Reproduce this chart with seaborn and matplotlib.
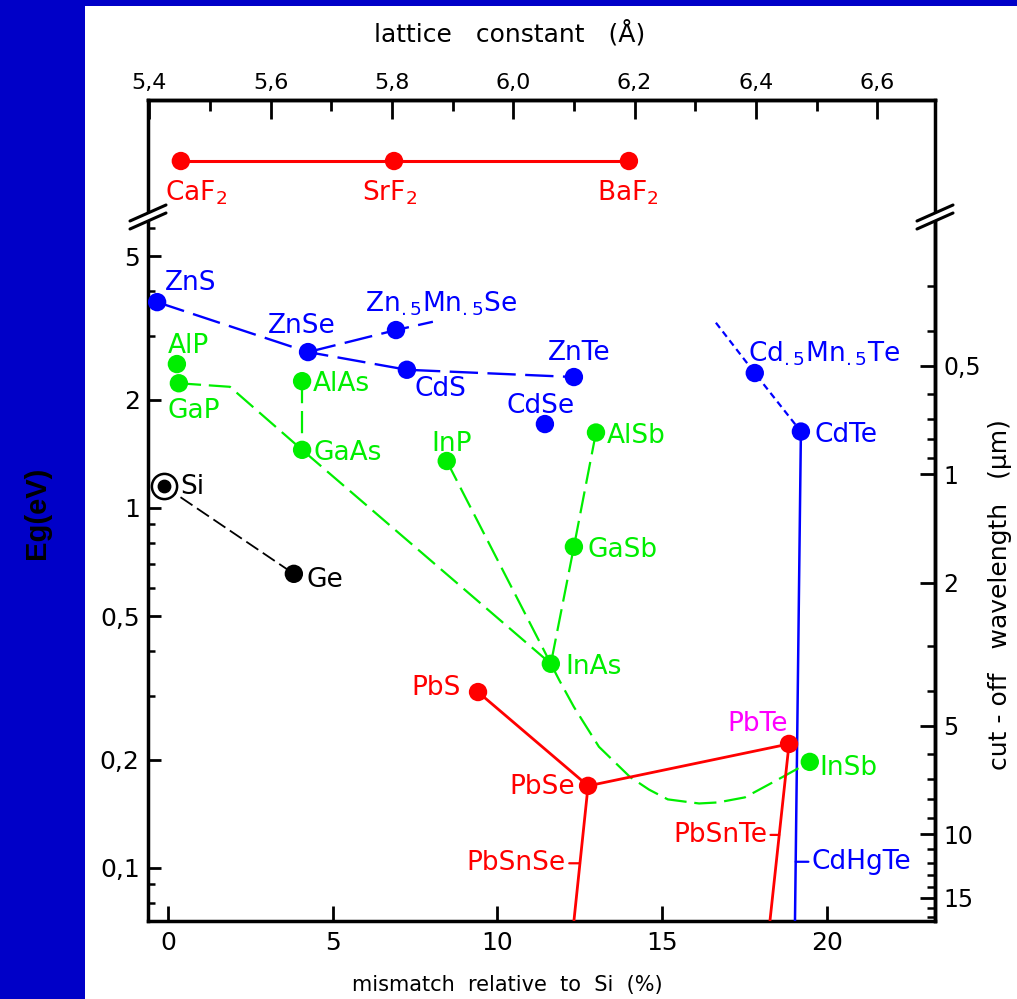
import numpy as np
import matplotlib
matplotlib.use("Agg")
import matplotlib.pyplot as plt
import seaborn as sns
import pandas as pd
from matplotlib.ticker import FixedLocator, NullFormatter
from matplotlib.lines import Line2D
from matplotlib.patches import Rectangle

# ---------------- data ----------------
# x: lattice mismatch relative to Si (%), y: band gap Eg (eV)
blue_names = ["ZnS", "ZnSe", "Zn$_{.5}$Mn$_{.5}$Se", "CdS", "ZnTe", "CdSe",
              "Cd$_{.5}$Mn$_{.5}$Te", "CdTe"]
blue_mismatch = [-0.33, 4.25, 6.92, 7.25, 12.32, 11.44, 17.81, 19.21]
blue_eg = [3.73, 2.71, 3.12, 2.42, 2.31, 1.71, 2.37, 1.63]

green_names = ["AlP", "GaP", "AlAs", "GaAs", "InP", "AlSb", "GaSb", "InAs", "InSb"]
green_mismatch = [0.27, 0.33, 4.07, 4.07, 8.46, 12.99, 12.32, 11.62, 19.48]
green_eg = [2.51, 2.22, 2.25, 1.45, 1.35, 1.62, 0.78, 0.369, 0.197]

black_names = ["Si", "Ge"]
black_mismatch = [-0.12, 3.82]
black_eg = [1.15, 0.656]

red_names = ["PbS", "PbSe", "PbTe"]
red_mismatch = [9.41, 12.75, 18.85]
red_eg = [0.308, 0.169, 0.221]

fluoride_names = ["CaF$_2$", "SrF$_2$", "BaF$_2$"]
fluoride_mismatch = [0.39, 6.86, 13.99]
fluoride_level = [1.0, 1.0, 1.0]

# alloy tie lines
znsse_x = [-0.33, 4.25, 7.25, 12.32]          # ZnS - ZnSe - CdS - ZnTe
znsse_eg = [3.73, 2.71, 2.42, 2.31]
znmnse_x = [4.25, 6.92, 8.04]                 # ZnSe - Zn.5Mn.5Se
znmnse_eg = [2.71, 3.12, 3.29]
cdmnte_x = [16.63, 17.81, 19.21]              # CdMnTe - CdTe
cdmnte_eg = [3.27, 2.37, 1.63]
cdhgte_x = [19.21, 19.03]                     # CdTe -> HgTe (CdHgTe)
cdhgte_eg = [1.63, 0.0712]
gaasp_x = [0.33, 1.88, 4.07, 11.62]           # GaP - GaAs - InAs
gaasp_eg = [2.22, 2.17, 1.45, 0.369]
alas_x = [4.07, 4.07]                         # AlAs - GaAs
alas_eg = [2.25, 1.45]
inp_x = [8.46, 11.62]                         # InP - InAs
inp_eg = [1.35, 0.369]
alsb_x = [12.99, 12.32, 11.62]                # AlSb - GaSb - InAs
alsb_eg = [1.62, 0.78, 0.369]
inassb_x = [11.62, 11.87, 12.32, 13.08, 14.02, 14.60, 15.17, 16.12, 16.69,
            17.51, 18.21, 18.66, 19.48]       # InAs - InSb (bowing)
inassb_eg = [0.369, 0.333, 0.280, 0.217, 0.179, 0.165, 0.155, 0.151, 0.152,
             0.157, 0.170, 0.179, 0.197]
sige_x = [-0.12, 3.82]
sige_eg = [1.15, 0.656]
pb_x = [9.41, 12.75, 18.85]                   # PbS - PbSe - PbTe
pb_eg = [0.308, 0.169, 0.221]
pbsnse_x = [12.75, 12.32]                     # PbSe -> PbSnSe
pbsnse_eg = [0.169, 0.0712]
pbsnte_x = [18.85, 18.27]                     # PbTe -> PbSnTe
pbsnte_eg = [0.221, 0.0712]

x_ticks = [0, 5, 10, 15, 20]
x_ticklabels = ["0", "5", "10", "15", "20"]
eg_ticks = [0.1, 0.2, 0.5, 1, 2, 5]
eg_ticklabels = ["0,1", "0,2", "0,5", "1", "2", "5"]
eg_minor = [0.08, 0.09, 0.3, 0.4, 0.6, 0.7, 0.8, 0.9, 3, 4, 6]
wl_ticks = [0.5, 1, 2, 5, 10, 15]
wl_ticklabels = ["0,5", "1", "2", "5", "10", "15"]
wl_minor = [0.3, 0.4, 0.6, 0.7, 0.8, 0.9, 3, 4, 6, 7, 8, 9, 11, 12, 13, 14, 16, 17]
lat_ticks = [5.4, 5.6, 5.8, 6.0, 6.2, 6.4, 6.6]
lat_ticklabels = ["5,4", "5,6", "5,8", "6,0", "6,2", "6,4", "6,6"]
lat_minor = [5.5, 5.7, 5.9, 6.1, 6.3, 6.5]

# ---------------- styling ----------------
sns.set_theme(style="white")
plt.rcParams['font.family'] = ['DejaVu Sans']
plt.rcParams['mathtext.fontset'] = 'dejavusans'
plt.rcParams['text.color'] = 'black'
plt.rcParams['xtick.color'] = 'black'
plt.rcParams['ytick.color'] = 'black'
plt.rcParams['axes.labelcolor'] = 'black'

W, H = 1017, 999
BLUE, GREEN, RED, MAG = "#0000ff", "#00ee00", "#ff0000", "#ff00ff"

fig = plt.figure(figsize=(W / 100, H / 100), dpi=100, facecolor="#0000c8")
fig.add_artist(Rectangle((85 / W, 0), 1 - 85 / W, (H - 6) / H, transform=fig.transFigure,
                         facecolor="white", edgecolor="none", zorder=-1))

def fx(px):
    return px / W

def fy(py):
    return 1 - py / H

L, R, TOP, BRK, BOT = 148, 935, 100, 217, 921
ax = fig.add_axes([fx(L), fy(BOT), fx(R) - fx(L), fy(BRK) - fy(BOT)])
axu = fig.add_axes([fx(L), fy(BRK), fx(R) - fx(L), fy(TOP) - fy(BRK)])
for a in (ax, axu):
    a.set_facecolor("none")
    for s in a.spines.values():
        s.set_color("black")
        s.set_linewidth(2.5)

XLIM = (-0.607, 23.28)
YLIM = (0.0712, 6.43)
ax.set_xlim(*XLIM)
ax.set_yscale("log")
ax.set_ylim(*YLIM)
ax.spines["top"].set_visible(False)
ax.set_xticks(x_ticks)
ax.set_xticklabels(x_ticklabels)
ax.yaxis.set_major_locator(FixedLocator(eg_ticks))
ax.set_yticklabels(eg_ticklabels)
ax.yaxis.set_minor_locator(FixedLocator(eg_minor))
ax.yaxis.set_minor_formatter(NullFormatter())
ax.tick_params(axis="x", which="major", direction="in", length=11, width=2,
               labelsize=18, pad=7, bottom=True, top=False, colors="black")
ax.tick_params(axis="y", which="major", direction="in", length=9, width=2,
               labelsize=18, pad=6, left=True, right=False, colors="black")
ax.tick_params(axis="y", which="minor", direction="in", length=5, width=1.8, left=True,
               right=False, colors="black")
ax.set_xlabel("")
ax.set_ylabel("")

# right axis: cut-off wavelength
axr = ax.twinx()
axr.set_yscale("log")
axr.set_ylim(1.24 / YLIM[0], 1.24 / YLIM[1])
axr.yaxis.set_major_locator(FixedLocator(wl_ticks))
axr.set_yticklabels(wl_ticklabels)
axr.yaxis.set_minor_locator(FixedLocator(wl_minor))
axr.yaxis.set_minor_formatter(NullFormatter())
axr.tick_params(axis="y", which="major", direction="in", length=11, width=2, labelsize=17,
                pad=6, colors="black")
axr.tick_params(axis="y", which="minor", direction="in", length=6, width=1.8, colors="black")
for k in ("top", "left", "bottom"):
    axr.spines[k].set_visible(False)
axr.spines["right"].set_linewidth(2.5)
axr.spines["right"].set_color("black")
axr.grid(False)

# upper panel (fluorides)
axu.set_xlim(*XLIM)
axu.set_ylim(0, 2.09)
axu.spines["bottom"].set_visible(False)
axu.tick_params(bottom=False, labelbottom=False, left=False, labelleft=False,
                top=False, labeltop=False)
secax = axu.secondary_xaxis("top", functions=(lambda m: 5.431 * (1 + m / 100.0),
                                               lambda a: (a / 5.431 - 1) * 100.0))
secax.set_xticks(lat_ticks)
secax.set_xticklabels(lat_ticklabels)
secax.xaxis.set_minor_locator(FixedLocator(lat_minor))
secax.tick_params(which="major", direction="in", length=14, width=2, labelsize=16, pad=5,
                  colors="black")
secax.tick_params(which="minor", direction="in", length=8, width=2, colors="black")
secax.spines["top"].set_linewidth(2.5)
secax.spines["top"].set_color("black")

# ---------------- lines ----------------
def line(a, xs, ys, color, ls="-", lw=1.6):
    a.plot(xs, ys, color=color, linestyle=ls, linewidth=lw, zorder=3, solid_capstyle="butt")

DASH_B = (0, (12, 4))
DASH_G = (0, (10, 3.5))
line(ax, znsse_x, znsse_eg, BLUE, DASH_B, 1.7)
line(ax, znmnse_x, znmnse_eg, BLUE, DASH_B, 1.7)
line(ax, cdmnte_x, cdmnte_eg, BLUE, (0, (3, 2)), 1.6)
line(ax, cdhgte_x, cdhgte_eg, BLUE, "-", 1.8)
line(ax, gaasp_x, gaasp_eg, GREEN, DASH_G, 1.6)
line(ax, alas_x, alas_eg, GREEN, DASH_G, 1.6)
line(ax, inp_x, inp_eg, GREEN, DASH_G, 1.6)
line(ax, alsb_x, alsb_eg, GREEN, DASH_G, 1.6)
line(ax, inassb_x, inassb_eg, GREEN, DASH_G, 1.6)
line(ax, sige_x, sige_eg, "black", (0, (8, 3)), 1.3)
line(ax, pb_x, pb_eg, RED, "-", 2.0)
line(ax, pbsnse_x, pbsnse_eg, RED, "-", 2.0)
line(ax, pbsnte_x, pbsnte_eg, RED, "-", 2.0)
line(axu, fluoride_mismatch, fluoride_level, RED, "-", 2.2)

# ---------------- markers ----------------
MS = 175
for xs, ys, c in ((blue_mismatch, blue_eg, BLUE), (green_mismatch, green_eg, GREEN),
                  (black_mismatch[1:], black_eg[1:], "black"), (red_mismatch, red_eg, RED)):
    sns.scatterplot(x=xs, y=ys, color=c, s=MS, edgecolor="none", ax=ax, zorder=5, legend=False)
sns.scatterplot(x=fluoride_mismatch, y=fluoride_level, color=RED, s=MS, edgecolor="none",
                ax=axu, zorder=5, legend=False)
# Si: circled dot
ax.scatter(black_mismatch[:1], black_eg[:1], s=330, facecolor="white", edgecolor="black",
           linewidth=1.8, zorder=5)
ax.scatter(black_mismatch[:1], black_eg[:1], s=80, color="black", zorder=6)
ax.set_xlim(*XLIM)
ax.set_ylim(*YLIM)
axu.set_xlim(*XLIM)
axu.set_ylim(0, 2.09)
ax.set_xlabel("")
ax.set_ylabel("")
axu.set_xlabel("")
axu.set_ylabel("")

# ---------------- labels (offsets in pixels: right, down) ----------------
FS = 19

def lab(a, x, y, text, dx, dy, color, ha="left"):
    a.annotate(text, (x, y), xytext=(dx * 0.72, -dy * 0.72), textcoords="offset points",
               ha=ha, va="center_baseline", color=color, fontsize=FS, zorder=7)

blue_off = [(8, -22, "left"), (-40, -29, "left"), (-31, -30, "left"), (8, 16, "left"),
            (-26, -27, "left"), (-38, -21, "left"), (-7, -23, "left"), (14, 0, "left")]
for n, x, y, o in zip(blue_names, blue_mismatch, blue_eg, blue_off):
    lab(ax, x, y, n, o[0], o[1], BLUE, o[2])
green_off = [(-9, -21, "left"), (-11, 25, "left"), (11, 0, "left"), (11, 0, "left"),
             (-15, -20, "left"), (11, 0, "left"), (14, 0, "left"), (15, 0, "left"),
             (10, 3, "left")]
for n, x, y, o in zip(green_names, green_mismatch, green_eg, green_off):
    lab(ax, x, y, n, o[0], o[1], GREEN, o[2])
black_off = [(16, -2, "left"), (13, 3, "left")]
for n, x, y, o in zip(black_names, black_mismatch, black_eg, black_off):
    lab(ax, x, y, n, o[0], o[1], "black", o[2])
red_off = [(-17, -7, "right", RED), (-13, -2, "right", RED), (-1, -23, "right", MAG)]
for n, x, y, o in zip(red_names, red_mismatch, red_eg, red_off):
    lab(ax, x, y, n, o[0], o[1], o[3], o[2])
for n, x, y in zip(fluoride_names, fluoride_mismatch, fluoride_level):
    axu.annotate(n, (x, y), xytext=(-16 * 0.72 if x < 1 else -32 * 0.72, -28 * 0.72),
                 textcoords="offset points", ha="left", va="center_baseline",
                 color=RED, fontsize=FS)

def on_line(xs, ys, eg):
    ly = np.log10(ys)
    return np.interp(np.log10(eg), ly[::-1], np.asarray(xs)[::-1])

for text, xs, ys, eg, dx, ha, c in (("PbSnSe", pbsnse_x, pbsnse_eg, 0.103, -14, "right", RED),
                                     ("PbSnTe", pbsnte_x, pbsnte_eg, 0.1235, -12, "right", RED),
                                     ("CdHgTe", cdhgte_x, cdhgte_eg, 0.104, 16, "left", BLUE)):
    xp = on_line(xs, ys, eg)
    ax.annotate(text, (xp, eg), xytext=(dx * 0.72, 0), textcoords="offset points",
                ha=ha, va="center", color=c, fontsize=FS, zorder=7,
                arrowprops=dict(arrowstyle="-", color=c, lw=1.6, shrinkA=0, shrinkB=0))

# axis titles
fig.text(fx(510), fy(33), "lattice   constant   (Å)", ha="center", va="center", fontsize=18,
         color="black")
fig.text(fx(507), fy(985), "mismatch  relative  to  Si  (%)", ha="center", va="center",
         fontsize=15, color="black")
fig.text(fx(37), fy(513), "Eg(eV)", ha="center", va="center", rotation=90, fontsize=21,
         fontweight="bold", family=["Liberation Sans", "DejaVu Sans"], color="black")
fig.text(fx(1000), fy(595), "cut - off   wavelength   (µm)", ha="center", va="center",
         rotation=90, fontsize=18, color="black")

# axis break marks
for x0 in (L, R):
    for dy in (-4, 4):
        fig.add_artist(Line2D([fx(x0 - 18), fx(x0 + 18)], [fy(BRK + 8 + dy), fy(BRK - 8 + dy)],
                              color="black", lw=2.2, transform=fig.transFigure))
    fig.add_artist(Rectangle((fx(x0 - 3), fy(BRK + 4)), fx(6), 8 / H, transform=fig.transFigure,
                             facecolor="white", edgecolor="none", zorder=1))

fig.savefig("out.png", dpi=100, facecolor=fig.get_facecolor())
